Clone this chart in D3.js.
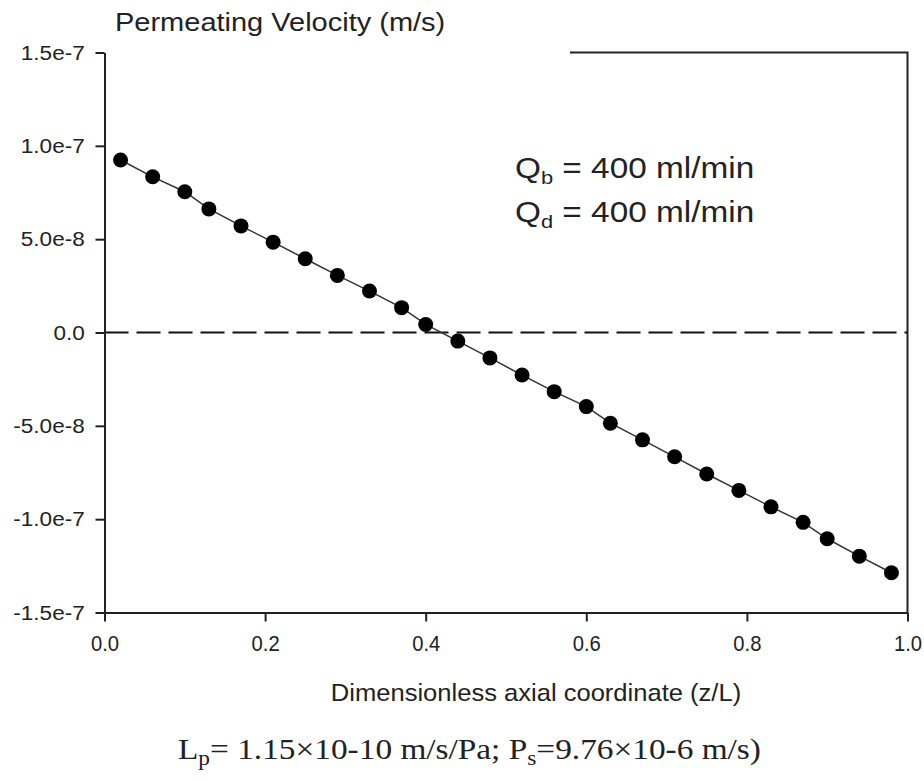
<!DOCTYPE html>
<html lang="en">
  <head>
    <meta charset="utf-8">
    <title>Permeating Velocity</title>
    <script src="https://d3js.org/d3.v7.min.js"></script>
    <style>
      body { margin: 0; background: #fff; }
      text { font-family: "Liberation Sans", Arial, sans-serif; fill: #222; }
      .caption { font-family: "Liberation Serif", "Times New Roman", serif; }
    </style>
  </head>
  <body>
    <div class="chart"></div>
    <script>
      // axial position (z/L) and permeating velocity (m/s)
      const zPos = [0.02, 0.06, 0.10, 0.13, 0.17, 0.21, 0.25, 0.29, 0.33, 0.37, 0.40, 0.44, 0.48,
                    0.52, 0.56, 0.60, 0.63, 0.67, 0.71, 0.75, 0.79, 0.83, 0.87, 0.90, 0.94, 0.98];
      const velocity = [9.24e-8, 8.34e-8, 7.54e-8, 6.62e-8, 5.71e-8, 4.84e-8, 3.95e-8, 3.06e-8, 2.22e-8,
                        1.33e-8, 0.43e-8, -0.46e-8, -1.36e-8, -2.28e-8, -3.17e-8, -3.97e-8, -4.86e-8,
                        -5.75e-8, -6.66e-8, -7.58e-8, -8.46e-8, -9.34e-8, -1.017e-7, -1.105e-7,
                        -1.198e-7, -1.287e-7];
      const xTicks = [0, 0.2, 0.4, 0.6, 0.8, 1.0];
      const yTicks = [-1.5e-7, -1.0e-7, -5.0e-8, 0, 5.0e-8, 1.0e-7, 1.5e-7];

      const data = zPos.map((z, i) => ({z: z, v: velocity[i]}));

      const width = 924, height = 782;
      const svg = d3.select('.chart').append('svg')
          .attr('width', width)
          .attr('height', height);

      const x = d3.scaleLinear().domain([0, 1]).range([104.5, 907.5]);
      const y = d3.scaleLinear().domain([-1.5e-7, 1.5e-7]).range([612.5, 52.5]);

      // partial top frame + right frame
      svg.append('path')
          .attr('d', `M570,${y(1.5e-7)}H${x(1)}V${y(-1.5e-7)}`)
          .attr('fill', 'none')
          .attr('stroke', '#222')
          .attr('stroke-width', 2);

      // zero line
      svg.append('line')
          .attr('x1', x(0)).attr('x2', x(1))
          .attr('y1', y(0)).attr('y2', y(0))
          .attr('stroke', '#111')
          .attr('stroke-width', 2)
          .attr('stroke-dasharray', '24,8');

      const xAxis = svg.append('g')
          .attr('transform', `translate(0,${y(-1.5e-7)})`)
          .call(d3.axisBottom(x).tickValues(xTicks).tickFormat(d3.format('.1f'))
              .tickSize(9).tickSizeOuter(0).tickPadding(14));
      xAxis.selectAll('text')
          .style('font-size', '22px')
          .attr('transform', 'scale(0.92,1)');

      const yAxis = svg.append('g')
          .attr('transform', `translate(${x(0)},0)`)
          .call(d3.axisLeft(y).tickValues(yTicks)
              .tickFormat(d => d === 0 ? '0.0' : d.toExponential(1))
              .tickSize(9).tickSizeOuter(0).tickPadding(9));
      yAxis.selectAll('text')
          .style('font-size', '20.5px')
          .attr('transform', 'scale(1.1,1)');

      svg.selectAll('.domain, .tick line')
          .attr('stroke', '#222')
          .attr('stroke-width', 2);

      // series line + markers
      const line = d3.line().x(d => x(d.z)).y(d => y(d.v));
      svg.append('path')
          .datum(data)
          .attr('d', line)
          .attr('fill', 'none')
          .attr('stroke', '#333')
          .attr('stroke-width', 1.5);

      svg.selectAll('circle.pt')
          .data(data)
          .enter()
          .append('circle')
          .attr('class', 'pt')
          .attr('cx', d => x(d.z))
          .attr('cy', d => y(d.v))
          .attr('r', 7.5)
          .attr('fill', '#000');

      // titles
      svg.append('text')
          .attr('transform', 'translate(115,31) scale(1.16,1)')
          .style('font-size', '25px')
          .text('Permeating Velocity (m/s)');

      svg.append('text')
          .attr('transform', 'translate(536,701) scale(1.065,1)')
          .attr('text-anchor', 'middle')
          .style('font-size', '24px')
          .text('Dimensionless axial coordinate (z/L)');

      // annotation
      const notes = [['b', 178], ['d', 222]];
      notes.forEach(n => {
          const t = svg.append('text')
              .attr('transform', `translate(515,${n[1]}) scale(1.15,1)`)
              .style('font-size', '29px');
          t.append('tspan').text('Q');
          t.append('tspan').attr('dy', 6).style('font-size', '19px').text(n[0]);
          t.append('tspan').attr('dy', -6).text(' = 400 ml/min');
      });

      // caption
      const cap = svg.append('text')
          .attr('class', 'caption')
          .attr('transform', 'translate(178,759) scale(1.17,1)')
          .style('font-size', '28.5px');
      cap.append('tspan').text('L');
      cap.append('tspan').attr('dy', 6).style('font-size', '20px').text('p');
      cap.append('tspan').attr('dy', -6).text('= 1.15×10-10 m/s/Pa; P');
      cap.append('tspan').attr('dy', 6).style('font-size', '20px').text('s');
      cap.append('tspan').attr('dy', -6).text('=9.76×10-6 m/s)');
    </script>
  </body>
</html>
